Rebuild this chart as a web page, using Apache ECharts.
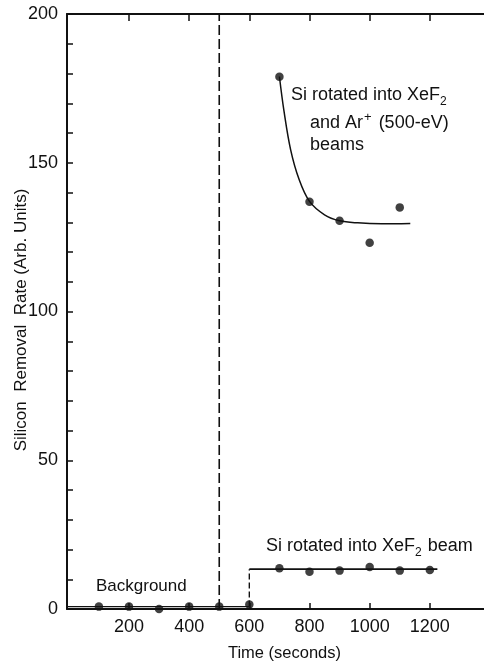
<!DOCTYPE html>
<html>
<head>
<meta charset="utf-8">
<script src="https://cdn.jsdelivr.net/npm/echarts@6/dist/echarts.min.js"></script>
<style>
  html, body { margin: 0; padding: 0; background: #fff; }
  #chart { width: 484px; height: 662px; }
</style>
</head>
<body>
<div id="chart"></div>
<script>
// Silicon removal rate vs. time, with background, XeF2-only and XeF2 + Ar+ phases
const timeTicks = [200, 400, 600, 800, 1000, 1200];
const rateTicks = [0, 50, 100, 150, 200];

// Background (no beams)
const bgTimes = [100, 200, 300, 400, 500, 600];
const bgRates = [0.8, 0.8, 0.0, 0.8, 0.8, 1.5];
const bgLevel = 0.8;

// Si rotated into the XeF2 beam only
const xefTimes = [700, 800, 900, 1000, 1100, 1200];
const xefRates = [13.7, 12.5, 12.9, 14.1, 12.9, 13.1];
const xefLevel = 13.4;
const xefStart = 600;
const xefEnd = 1225;

// Si rotated into XeF2 + Ar+ (500 eV) beams
const arTimes = [700, 800, 900, 1000, 1100];
const arRates = [178.9, 136.9, 130.5, 123.1, 135.0];
// hand-drawn trend curve through the XeF2 + Ar+ data
const arCurveTimes = [700, 715, 737, 765, 800, 850, 900, 960, 1040, 1135];
const arCurveRates = [179, 167.5, 154.5, 144.5, 137, 132.5, 130.5, 129.8, 129.5, 129.6];

// Time at which the ion beam was switched (vertical dashed marker)
const switchTime = 500;

const X_MIN = -6, X_MAX = 1380;
const Y_MIN = 0, Y_MAX = 200;

const INK = '#111';
const FONT = '"Liberation Sans", Arial, Helvetica, sans-serif';

const zip = (xs, ys) => xs.map((x, i) => [x, ys[i]]);

const chart = echarts.init(document.getElementById('chart'), null, { renderer: 'canvas' });

const axisBase = {
  type: 'value',
  min: X_MIN,
  max: X_MAX,
  splitLine: { show: false },
  axisLine: { show: true, onZero: false, lineStyle: { color: INK, width: 2 } }
};

chart.setOption({
  animation: false,
  backgroundColor: '#fff',
  grid: { left: 67, right: 0, top: 14, bottom: 53, containLabel: false, outerBoundsMode: 'none' },
  xAxis: [
    Object.assign({}, axisBase, {
      position: 'bottom',
      name: 'Time (seconds)',
      nameLocation: 'middle',
      nameGap: 36,
      nameMoveOverlap: false,
      nameTextStyle: { fontFamily: FONT, fontSize: 16.5, color: INK, padding: [0, 0, 0, 18] },
      axisTick: { show: true, inside: true, length: 6, customValues: timeTicks, lineStyle: { color: INK, width: 1.5 } },
      axisLabel: {
        show: true, customValues: timeTicks, margin: 9,
        fontFamily: FONT, fontSize: 18, color: INK,
        formatter: v => String(v)
      }
    }),
    Object.assign({}, axisBase, {
      position: 'top',
      axisTick: { show: true, inside: true, length: 7, customValues: timeTicks, lineStyle: { color: INK, width: 1.5 } },
      axisLabel: { show: false }
    })
  ],
  yAxis: {
    type: 'value',
    min: Y_MIN,
    max: Y_MAX,
    interval: 10,
    splitLine: { show: false },
    axisLine: { show: true, onZero: false, lineStyle: { color: INK, width: 2 } },
    axisTick: { show: true, inside: true, length: 6, lineStyle: { color: INK, width: 1.5 } },
    axisLabel: {
      margin: 9,
      fontFamily: FONT, fontSize: 18, color: INK,
      formatter: v => (rateTicks.indexOf(v) >= 0 ? String(v) : '')
    },
    name: 'Silicon  Removal  Rate (Arb. Units)',
    nameLocation: 'middle',
    nameGap: 37,
    nameMoveOverlap: false,
    nameTextStyle: { fontFamily: FONT, fontSize: 17, color: INK, padding: [0, 17, 0, 0] }
  },
  series: [
    {
      name: 'switch',
      type: 'line',
      data: [[switchTime, Y_MIN], [switchTime, Y_MAX]],
      symbol: 'none',
      lineStyle: { color: INK, width: 1.6, type: [10, 4] },
      z: 1
    },
    {
      name: 'bg level',
      type: 'line',
      data: [[X_MIN, bgLevel], [xefStart, bgLevel]],
      symbol: 'none',
      lineStyle: { color: INK, width: 1.4 }
    },
    {
      name: 'step',
      type: 'line',
      data: [[xefStart, bgLevel], [xefStart, xefLevel]],
      symbol: 'none',
      lineStyle: { color: INK, width: 1.4, type: [6, 3] }
    },
    {
      name: 'xef level',
      type: 'line',
      data: [[xefStart, xefLevel], [xefEnd, xefLevel]],
      symbol: 'none',
      lineStyle: { color: INK, width: 1.6 }
    },
    {
      name: 'ar curve',
      type: 'line',
      data: zip(arCurveTimes, arCurveRates),
      smooth: 0.35,
      symbol: 'none',
      lineStyle: { color: INK, width: 1.5 }
    },
    {
      name: 'Background',
      type: 'scatter',
      data: zip(bgTimes, bgRates),
      symbol: 'circle',
      symbolSize: 8.5,
      itemStyle: { color: INK },
      z: 5
    },
    {
      name: 'XeF2',
      type: 'scatter',
      data: zip(xefTimes, xefRates),
      symbol: 'circle',
      symbolSize: 8.5,
      itemStyle: { color: INK },
      z: 5
    },
    {
      name: 'XeF2 + Ar+',
      type: 'scatter',
      data: zip(arTimes, arRates),
      symbol: 'circle',
      symbolSize: 8.5,
      itemStyle: { color: INK },
      z: 5
    }
  ],
  graphic: [
    {
      type: 'text', left: 291, top: 86,
      style: {
        text: 'Si rotated into XeF{sub|2}',
        font: '18px ' + FONT, fill: INK,
        rich: { sub: { fontSize: 12, fontFamily: FONT, fill: INK, padding: [14, 0, 0, 0] } }
      }
    },
    {
      type: 'text', left: 310, top: 111,
      style: {
        text: 'and Ar{sup|+} (500-eV)',
        font: '18px ' + FONT, fill: INK,
        rich: { sup: { fontSize: 13, fontFamily: FONT, fill: INK, padding: [0, 2, 12, 1] } }
      }
    },
    {
      type: 'text', left: 310, top: 136,
      style: { text: 'beams', font: '18px ' + FONT, fill: INK }
    },
    {
      type: 'text', left: 266, top: 537,
      style: {
        text: 'Si rotated into XeF{sub|2} beam',
        font: '18px ' + FONT, fill: INK,
        rich: { sub: { fontSize: 12, fontFamily: FONT, fill: INK, padding: [14, 1, 0, 0] } }
      }
    },
    {
      type: 'text', left: 96, top: 578,
      style: { text: 'Background', font: '17px ' + FONT, fill: INK }
    }
  ]
});
</script>
</body>
</html>
